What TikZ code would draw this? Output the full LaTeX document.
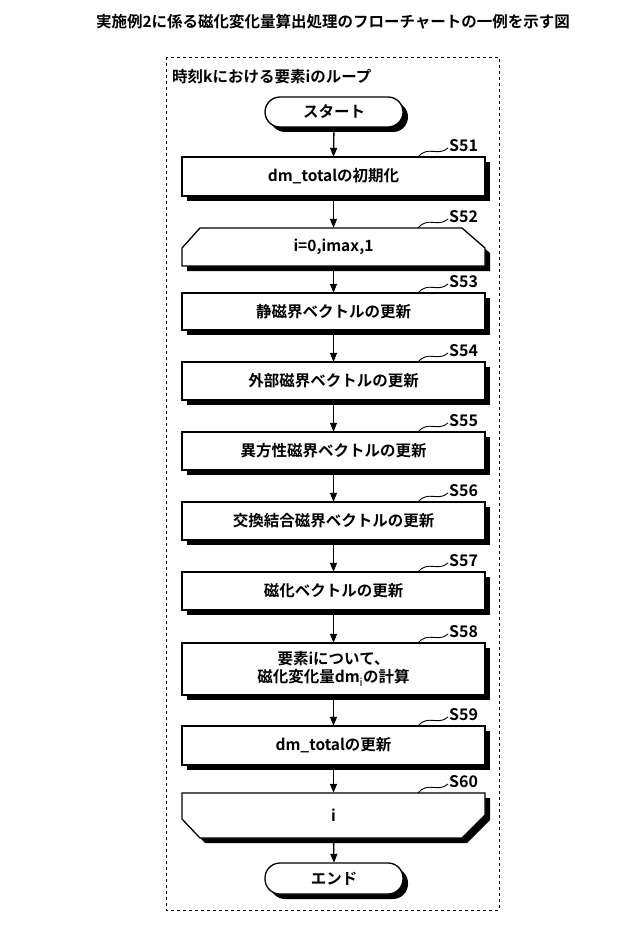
\documentclass[tikz,border=0pt]{standalone}
\usepackage{fontspec}
\setmainfont{Noto Sans CJK JP}[BoldFont={* Bold}]
\usetikzlibrary{arrows.meta}
\begin{document}
\begin{tikzpicture}[x=1pt,y=-1pt,
  txt/.style={font=\fontsize{15.5}{18}\selectfont\bfseries,align=center},
  shp/.style={draw=black,line width=1.3pt,fill=white},
  shd/.style={fill=black},
  arr/.style={-{Triangle[length=9pt,width=7pt]},line width=1.3pt},
  lbl/.style={font=\fontsize{16}{18}\selectfont\bfseries,anchor=west,inner sep=0pt},
  sq/.style={line width=0.9pt}]
\useasboundingbox (0,0) rectangle (640,944);
\node[font=\fontsize{15.5}{18}\selectfont\bfseries] (title) at (333,22) {実施例2に係る磁化変化量算出処理のフローチャートの一例を示す図};
\draw[dashed,line width=0.9pt] (166,57) rectangle (499,910);
\node[font=\fontsize{15.5}{18}\selectfont\bfseries,anchor=west,inner sep=0pt] (loop) at (172,77) {時刻kにおける要素iのループ};
% terminals
\fill[shd,rounded corners=15pt] (270,102) rectangle (408,132);
\draw[shp,rounded corners=15pt] (265,97) rectangle (403,127);
\node[txt,minimum width=138pt,minimum height=30pt] (start) at (334,112) {スタート};
\fill[shd,rounded corners=15pt] (270,868) rectangle (408,899);
\draw[shp,rounded corners=15pt] (265,863) rectangle (403,894);
\node[txt,minimum width=138pt,minimum height=31pt] (end) at (334,878.5) {エンド};
% process boxes
\def\proc#1#2#3#4#5{%
 \fill[shd] (187,#2+5) rectangle (490,#3+5);
 \draw[shp] (182,#2) rectangle (485,#3);
 \node[txt,minimum width=303pt,minimum height={#3-#2}] (#1) at (333.5,{(#2+#3)/2}) {#4};
 \draw[sq] (418,#2) .. controls (428,#2-12) and (438,#2) .. (448,#2-9);
 \node[lbl] at (449,#2-11) {#5};
}
\proc{s51}{157}{196}{dm\_totalの初期化}{S51}
\proc{s53}{293}{330}{静磁界ベクトルの更新}{S53}
\proc{s54}{362}{400}{外部磁界ベクトルの更新}{S54}
\proc{s55}{432}{470}{異方性磁界ベクトルの更新}{S55}
\proc{s56}{502}{540}{交換結合磁界ベクトルの更新}{S56}
\proc{s57}{572}{610}{磁化ベクトルの更新}{S57}
\proc{s58}{643}{695}{要素iについて、\\磁化変化量dm$_{\mathrm i}$の計算}{S58}
\proc{s59}{726}{765}{dm\_totalの更新}{S59}
% loop start
\fill[shd] (205,233) -- (467,233) -- (490,253) -- (490,271) -- (187,271) -- (187,253) -- cycle;
\draw[shp] (200,228) -- (462,228) -- (485,248) -- (485,266) -- (182,266) -- (182,248) -- cycle;
\node[txt,minimum width=303pt,minimum height=38pt] (s52) at (333.5,247) {i=0,imax,1};
\draw[sq] (418,228) .. controls (428,216) and (438,228) .. (448,219);
\node[lbl] at (449,217) {S52};
% loop end
\fill[shd] (187,798) -- (490,798) -- (490,820) -- (467,843) -- (205,843) -- (187,824) -- cycle;
\draw[shp] (182,793) -- (485,793) -- (485,815) -- (462,838) -- (200,838) -- (182,819) -- cycle;
\node[txt,minimum width=303pt,minimum height=45pt] (s60) at (333.5,815.5) {i};
\draw[sq] (418,793) .. controls (428,781) and (438,793) .. (448,784);
\node[lbl] at (449,782) {S60};
% arrows
\foreach \a/\b in {start/s51,s51/s52,s52/s53,s53/s54,s54/s55,s55/s56,s56/s57,s57/s58,s58/s59,s59/s60,s60/end}
  \draw[arr] (\a.south) -- (\b.north);
\end{tikzpicture}
\end{document}
